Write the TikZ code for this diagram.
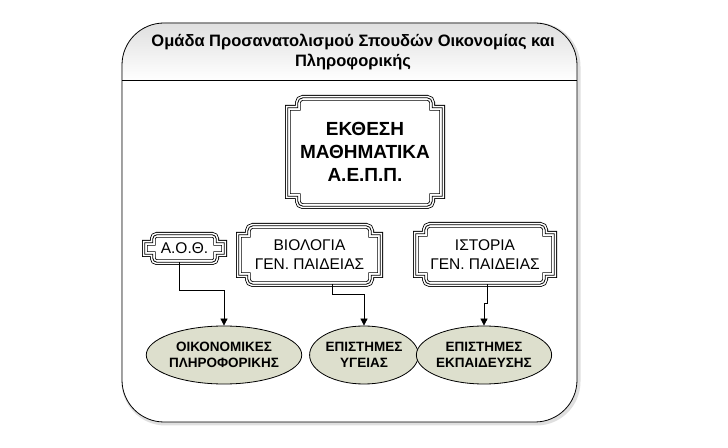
\documentclass[tikz,border=0pt]{standalone}
\usepackage{fontspec}
\setmainfont{Liberation Sans}
\usetikzlibrary{shapes.geometric,arrows.meta,calc}

\definecolor{fieldFill}{RGB}{221,223,205}

% triple-lined plaque frame round a node: #1 node, #2 step, #3 corner radius
\newcommand{\plaqueFrame}[3]{%
  \draw[tripleLine] let \p1=(#1.south west), \p2=(#1.north east) in
    (\x1,\y2-#2) -- (\x1+#2,\y2-#2) -- (\x1+#2,\y2-#3)
    arc[start angle=180,end angle=90,radius=#3] -- (\x2-#2-#3,\y2)
    arc[start angle=90,end angle=0,radius=#3] -- (\x2-#2,\y2-#2) -- (\x2,\y2-#2)
    -- (\x2,\y1+#2) -- (\x2-#2,\y1+#2) -- (\x2-#2,\y1+#3)
    arc[start angle=0,end angle=-90,radius=#3] -- (\x1+#2+#3,\y1)
    arc[start angle=270,end angle=180,radius=#3] -- (\x1+#2,\y1+#2) -- (\x1,\y1+#2) -- cycle;}

\begin{document}
\begin{tikzpicture}[
    x=1pt, y=1pt,
    tripleLine/.style={
        draw=white, line width=4pt, line join=miter,
        preaction={draw=black, line width=5.6pt},
        postaction={draw=black, line width=0.8pt}
    },
    plaqueNode/.style={
        rectangle, inner sep=0pt, align=center
    },
    courseNode/.style={
        plaqueNode, font=\fontsize{15.5}{19}\selectfont
    },
    fieldNode/.style={
        ellipse, draw=black, line width=0.8pt, fill=fieldFill,
        inner sep=0pt, align=center, minimum height=58pt,
        font=\bfseries\fontsize{13.5}{16}\selectfont
    },
    headerText/.style={
        align=center, inner sep=0pt, font=\bfseries\fontsize{16.5}{20}\selectfont
    },
    connArrow/.style={
        -{Triangle[length=7pt, width=7pt]}, line width=0.8pt, draw=black
    }
]
\useasboundingbox (0,0) rectangle (728,447);

% Outer frame with shaded header
\draw[gray!25, line width=4pt, rounded corners=42pt] (123.5,23.5) rectangle (578.5,422.5);
\fill[white, rounded corners=42pt] (122,25) rectangle (577,424);
\begin{scope}
    \clip[rounded corners=42pt] (122,25) rectangle (577,424);
    \shade[top color=gray!25, bottom color=white] (122,367) rectangle (577,424);
\end{scope}
\draw[line width=0.8pt, rounded corners=42pt] (122,25) rectangle (577,424);
\draw[line width=0.8pt] (122,367) -- (577,367);

\node[headerText] (title) at (353,395) {Ομάδα Προσανατολισμού Σπουδών Οικονομίας και\\Πληροφορικής};

% Subjects
\node[plaqueNode, font=\bfseries\fontsize{19}{23}\selectfont,
      minimum width=154pt, minimum height=108pt] (expo) at (365,295)
      {ΕΚΘΕΣΗ\\ΜΑΘΗΜΑΤΙΚΑ\\Α.Ε.Π.Π.};
\node[courseNode, minimum width=79pt, minimum height=27pt] (aoth) at (184.5,198.5) {Α.Ο.Θ.};
\node[courseNode, minimum width=141pt, minimum height=58pt] (bio) at (309.5,192) {ΒΙΟΛΟΓΙΑ\\ΓΕΝ. ΠΑΙΔΕΙΑΣ};
\node[courseNode, minimum width=138pt, minimum height=59pt] (hist) at (485,192.5) {ΙΣΤΟΡΙΑ\\ΓΕΝ. ΠΑΙΔΕΙΑΣ};

\plaqueFrame{expo}{10pt}{5pt}
\plaqueFrame{aoth}{8pt}{4pt}
\plaqueFrame{bio}{9pt}{5pt}
\plaqueFrame{hist}{9pt}{5pt}

% Fields of study
\node[fieldNode, minimum width=134pt] (econ) at (224,92) {ΟΙΚΟΝΟΜΙΚΕΣ\\ΠΛΗΡΟΦΟΡΙΚΗΣ};
\node[fieldNode, minimum width=96pt] (health) at (364,92) {ΕΠΙΣΤΗΜΕΣ\\ΥΓΕΙΑΣ};
\node[fieldNode, minimum width=134pt] (edu) at (484,92) {ΕΠΙΣΤΗΜΕΣ\\ΕΚΠΑΙΔΕΥΣΗΣ};

% Connectors
\draw[connArrow] ([xshift=-5.5pt]aoth.south) -- ++(0,-28) -| (econ.north);
\draw[connArrow] ([xshift=22.5pt]bio.south) -- ++(0,-10) -| (health.north);
\draw[connArrow] ([xshift=2pt]hist.south) -- ++(0,-19) -| (edu.north);

\end{tikzpicture}
\end{document}
